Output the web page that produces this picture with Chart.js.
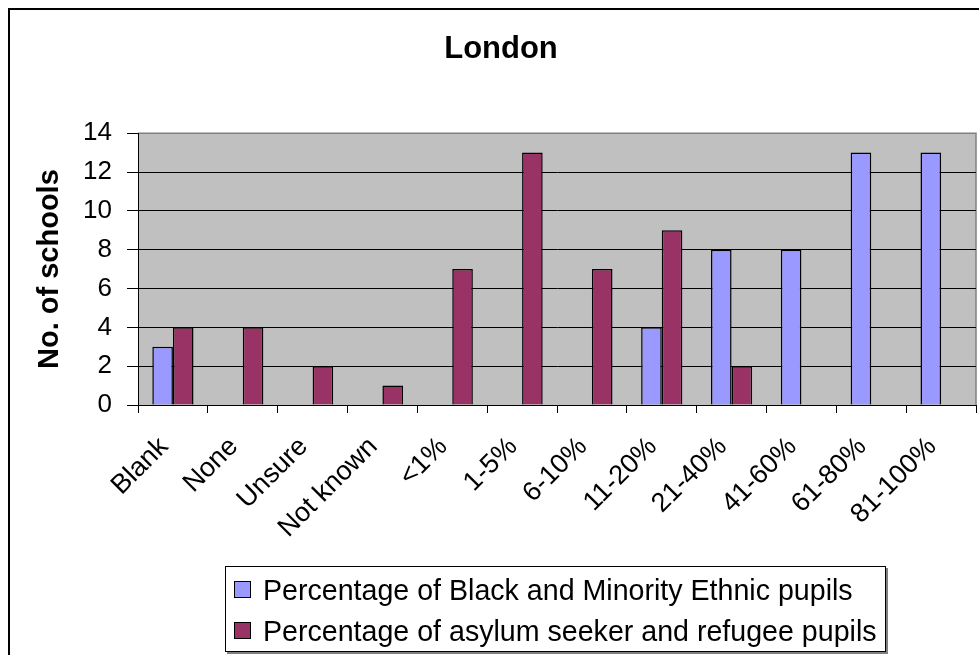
<!DOCTYPE html>
<html>
<head>
<meta charset="utf-8">
<script src="https://cdn.jsdelivr.net/npm/chart.js@4/dist/chart.umd.min.js"></script>
<style>
    html, body { margin: 0; padding: 0; background: #fff; }
    #wrap { position: relative; width: 979px; height: 655px; overflow: hidden; }
    #chart { position: absolute; left: 0; top: 0; }
    #legend {
        position: absolute; left: 225px; top: 566px; width: 659px; height: 84px;
        border: 1px solid #000; background: #fff; box-shadow: 2px 2px 0 #808080;
        font-family: 'Liberation Sans', Arial, sans-serif; font-size: 28.6px; color: #000;
    }
    .item { position: absolute; left: 8px; height: 30px; line-height: 30px; white-space: nowrap; }
    .item span.box {
        position: absolute; left: 0; top: 6px; width: 15px; height: 15px;
        border: 1.5px solid #000;
    }
    .item span.txt { position: absolute; left: 29px; top: 0; }
</style>
</head>
<body>
<div id="wrap">
    <canvas id="chart" width="979" height="655"></canvas>
    <div id="legend"></div>
</div>
<script>
// ── Daten ──────────────────────────────────────────────────────────────────

const CATEGORIES = ['Blank', 'None', 'Unsure', 'Not known', '<1%', '1-5%',
    '6-10%', '11-20%', '21-40%', '41-60%', '61-80%', '81-100%'];

const BME_PUPILS     = [3, null, null, null, null, null, null, 4, 8, 8, 13, 13];
const ASYLUM_PUPILS  = [4, 4, 2, 1, 7, 13, 7, 9, 2, null, null, null];

const SERIES_LABELS = [
    'Percentage of Black and Minority Ethnic pupils',
    'Percentage of asylum seeker and refugee pupils',
];

const COLORS = ['#9999FF', '#993366'];
const FONT = "'Liberation Sans', Arial, sans-serif";

// ── Rahmen und Plotfläche ──────────────────────────────────────────────────

const frame = {
    id: 'frame',
    beforeDraw(chart) {
        const { ctx, chartArea: a } = chart;
        ctx.save();
        ctx.fillStyle = '#fff';
        ctx.fillRect(0, 0, chart.width, chart.height);
        ctx.strokeStyle = '#000';
        ctx.lineWidth = 2;
        ctx.strokeRect(9, 9, 1000, 1000);
        ctx.fillStyle = '#C0C0C0';
        ctx.fillRect(a.left, a.top, a.right - a.left, a.bottom - a.top);
        ctx.strokeStyle = '#808080';
        ctx.lineWidth = 1.5;
        ctx.beginPath();
        ctx.moveTo(a.left, a.top);
        ctx.lineTo(a.right, a.top);
        ctx.lineTo(a.right, a.bottom);
        ctx.stroke();
        ctx.restore();
    },
};

new Chart(document.getElementById('chart'), {
    type: 'bar',
    data: {
        labels: CATEGORIES,
        datasets: [
            { label: SERIES_LABELS[0], data: BME_PUPILS },
            { label: SERIES_LABELS[1], data: ASYLUM_PUPILS },
        ].map((ds, i) => ({
            ...ds,
            backgroundColor: COLORS[i],
            borderColor: '#000',
            borderWidth: 1.5,
            categoryPercentage: 0.59,
            barPercentage: 1,
        })),
    },
    options: {
        responsive: false,
        animation: false,
        // links mehr Platz, damit der Titel über dem ganzen Rahmen zentriert sitzt
        layout: { padding: { left: 26, right: 3, top: 0, bottom: 100 } },
        plugins: {
            legend: { display: false },
            tooltip: { enabled: false },
            title: {
                display: true,
                text: 'London',
                color: '#000',
                font: { family: FONT, size: 31, weight: 'bold', lineHeight: 1.2 },
                padding: { top: 31, bottom: 65 },
            },
        },
        scales: {
            x: {
                afterFit(scale) {
                    scale.height = 150;
                    // gedrehte Labels sollen die Plotfläche nicht schmaler machen
                    scale.paddingLeft = 0;
                    scale.paddingRight = 0;
                },
                grid: {
                    offset: true,
                    drawOnChartArea: false,
                    tickLength: 8,
                    color: '#000',
                },
                border: { color: '#000', width: 1 },
                ticks: {
                    color: '#000',
                    font: { family: FONT, size: 27 },
                    minRotation: 45,
                    maxRotation: 45,
                    autoSkip: false,
                    padding: 18,
                    labelOffset: -9,
                },
            },
            y: {
                min: 0,
                max: 14,
                afterFit(scale) { scale.width = 112; },
                grid: {
                    color: ctx => ctx.tick && ctx.tick.value === 14 ? '#808080' : '#000',
                    tickColor: '#000',
                    tickLength: 11,
                },
                border: { color: '#000', width: 1 },
                ticks: {
                    stepSize: 2,
                    color: '#000',
                    padding: 15,
                    font: { family: FONT, size: 26 },
                },
                title: {
                    display: true,
                    text: 'No. of schools',
                    color: '#000',
                    font: { family: FONT, size: 29, weight: 'bold', lineHeight: 1.2 },
                    padding: { top: 7, bottom: 0 },
                },
            },
        },
    },
    plugins: [frame],
});

// ── Legende ────────────────────────────────────────────────────────────────

const legend = document.getElementById('legend');
SERIES_LABELS.forEach((label, i) => {
    const item = document.createElement('div');
    item.className = 'item';
    item.style.top = (8 + i * 41) + 'px';
    item.innerHTML = `<span class="box" style="background:${COLORS[i]}"></span><span class="txt"></span>`;
    item.querySelector('.txt').textContent = label;
    legend.appendChild(item);
});
</script>
</body>
</html>
